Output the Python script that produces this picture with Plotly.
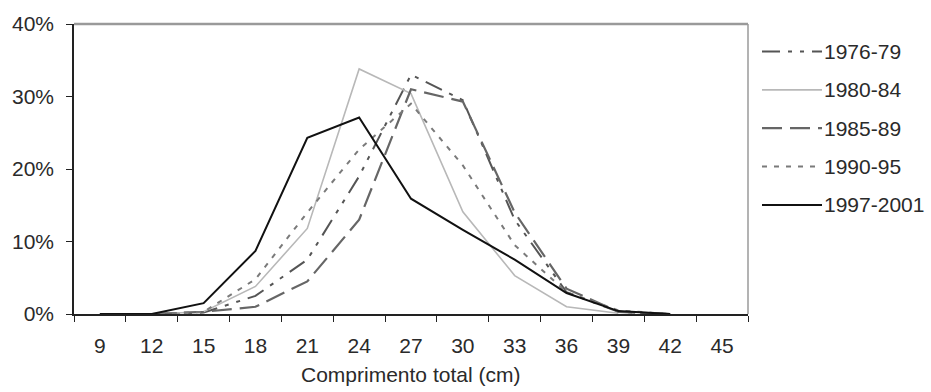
import plotly.graph_objects as go

lengths = ["9", "12", "15", "18", "21", "24", "27", "30", "33", "36", "39", "42", "45"]
s1976_79 = [0, 0, 0.2, 2.5, 7.5, 19, 33, 29.5, 13, 3, 0.3, 0, None]
s1980_84 = [0, 0, 0.3, 3.8, 11.8, 33.8, 30.4, 14.1, 5.3, 1.0, 0.1, None, None]
s1985_89 = [0, 0, 0.3, 1.0, 4.5, 13, 31, 29.3, 14, 3.5, 0.3, 0, None]
s1990_95 = [0, 0, 0.3, 4.8, 14, 22.7, 29, 20.5, 9.5, 3, 0.5, 0, None]
s1997_2001 = [0, 0, 1.5, 8.7, 24.3, 27.1, 15.9, 11.6, 7.5, 2.9, 0.4, 0, None]

series = [
    ("1976-79", s1976_79, "#555555", 2.0, "18px,8px,4px,8px,4px,8px"),
    ("1980-84", s1980_84, "#b8b8b8", 1.6, "solid"),
    ("1985-89", s1985_89, "#666666", 2.2, "20px,8px"),
    ("1990-95", s1990_95, "#7a7a7a", 2.0, "5px,7px"),
    ("1997-2001", s1997_2001, "#111111", 2.0, "solid"),
]

font_family = "Liberation Sans, Arial, sans-serif"
text_color = "#2a2a2a"
fsize = 21

# plot-area geometry in pixels (for placing the hand-drawn legend)
L, R, T, B = 74, 748, 19, 314
W, H = R - L, B - T


def px_x(x):
    return (x - L) / W


def px_y(y):
    return (B - y) / H


fig = go.Figure()
for name, vals, color, width, dash in series:
    fig.add_trace(go.Scatter(
        x=lengths, y=vals, name=name, mode="lines",
        line=dict(color=color, width=width, dash=dash),
        showlegend=False, connectgaps=False,
    ))

shapes = [
    dict(type="line", xref="paper", yref="paper", x0=0, x1=1, y0=1, y1=1,
         line=dict(color="#9a9a9a", width=2.5)),
    dict(type="line", xref="paper", yref="paper", x0=1, x1=1, y0=0, y1=1,
         line=dict(color="#9a9a9a", width=1.5)),
]
annotations = []
for i, (name, vals, color, width, dash) in enumerate(series):
    yc = 47 + 39 * i
    shapes.append(dict(
        type="line", xref="paper", yref="paper",
        x0=px_x(762), x1=px_x(822), y0=px_y(yc), y1=px_y(yc),
        line=dict(color=color, width=width, dash=dash),
    ))
    annotations.append(dict(
        xref="paper", yref="paper", x=px_x(822), y=px_y(yc),
        xanchor="left", yanchor="middle", text=name, showarrow=False,
        font=dict(size=fsize, color=text_color, family=font_family),
    ))

annotations.append(dict(
    xref="paper", yref="paper", x=px_x(410), y=px_y(376),
    xanchor="center", yanchor="middle", text="Comprimento total (cm)",
    showarrow=False, font=dict(size=fsize, color=text_color, family=font_family),
))

fig.update_layout(
    width=931, height=392,
    margin=dict(l=L, r=931 - R, t=T, b=392 - B),
    paper_bgcolor="white", plot_bgcolor="white",
    font=dict(family=font_family, size=fsize, color=text_color),
    showlegend=False,
    xaxis=dict(
        type="category", categoryorder="array", categoryarray=lengths,
        range=[-0.5, 12.5], tickson="boundaries",
        ticks="outside", ticklen=6, tickcolor="#222", tickwidth=1.2,
        showline=True, linecolor="#222", linewidth=1.6,
        showgrid=False, zeroline=False,
        ticklabelstandoff=12,
        tickfont=dict(size=fsize, color=text_color),
    ),
    yaxis=dict(
        range=[0, 40], dtick=10, ticksuffix="%",
        ticks="outside", ticklen=6, tickcolor="#222", tickwidth=1.2,
        showline=True, linecolor="#222", linewidth=1.6,
        showgrid=False, zeroline=False,
        ticklabelstandoff=8,
        tickfont=dict(size=fsize, color=text_color),
    ),
    shapes=shapes,
    annotations=annotations,
)

fig.write_html("out.html")
